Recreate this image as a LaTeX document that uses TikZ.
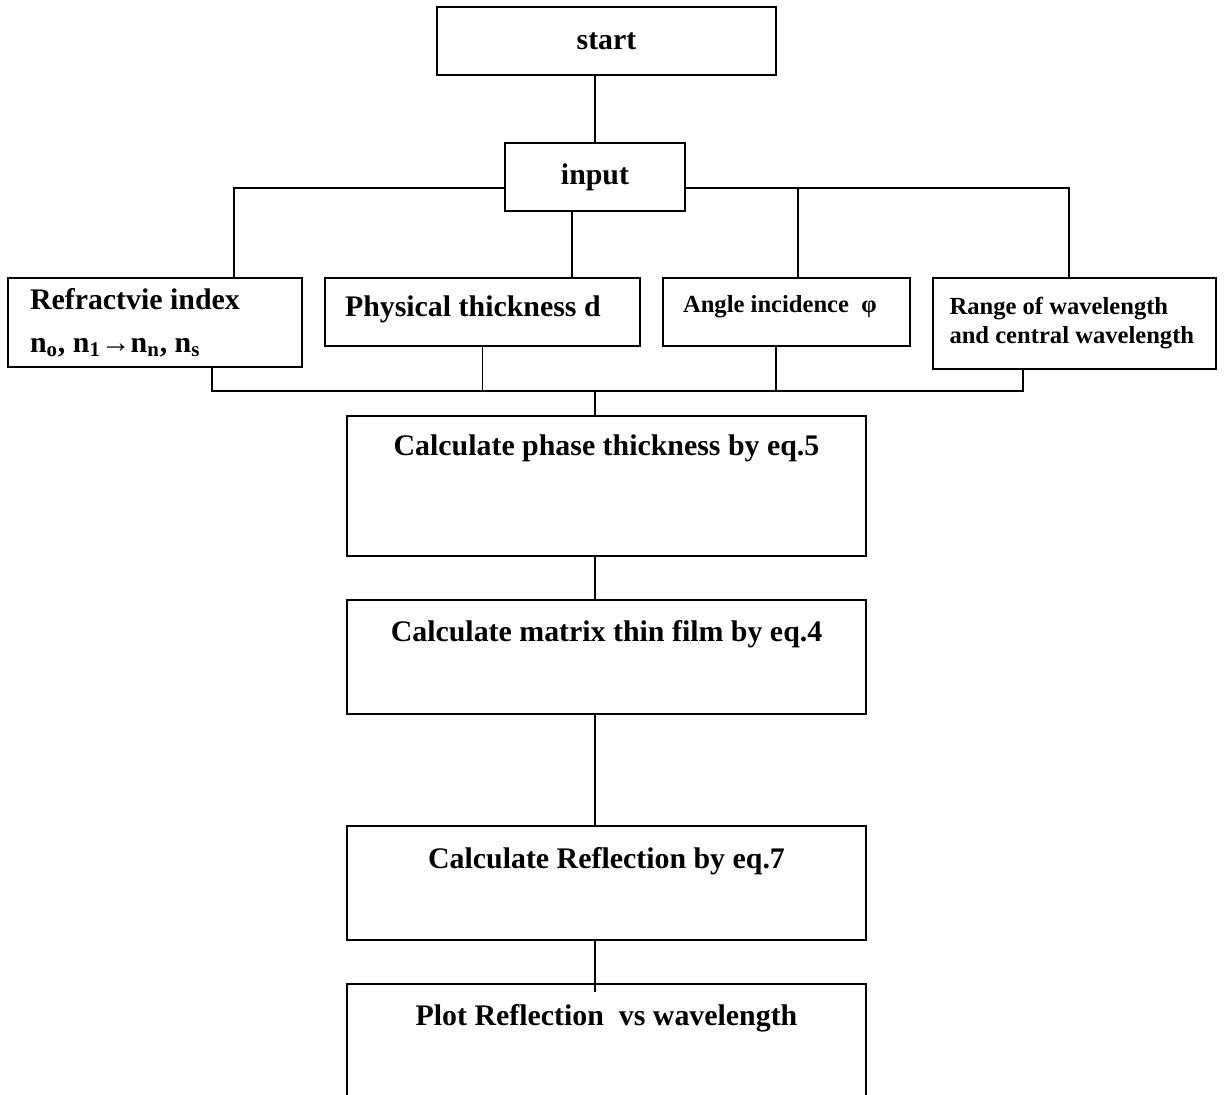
\documentclass[tikz,border=0pt]{standalone}
\usepackage{fontspec}
\setmainfont{Liberation Serif}
\usepackage{tikz}
\usetikzlibrary{positioning,shapes,calc}
\newcommand{\bigtxt}{\fontsize{17}{24.5}\selectfont\bfseries}
\newcommand{\smalltxt}{\fontsize{14}{16.5}\selectfont\bfseries}
\tikzstyle{core}=[rectangle, draw=black, line width=0.8pt, inner sep=0pt, text centered, font=\bigtxt]
\tikzstyle{data}=[rectangle, draw=black, line width=0.8pt, inner ysep=0pt, inner xsep=0.4cm, align=flush left]
\tikzstyle{calc}=[rectangle, draw=black, line width=0.8pt, inner sep=0pt, minimum width=10.38cm, text centered, font=\bigtxt]
\tikzstyle{myline}=[line width=0.8pt]
\hyphenpenalty=10000

\begin{document}
\begin{tikzpicture}[node distance=2cm]
        \useasboundingbox (0,0) rectangle (24.48,-21.88);

        \node (start) [core, minimum width=6.78cm, minimum height=1.36cm] at (12.13,-0.82) {start};
        \node (input) [core, minimum width=3.6cm, minimum height=1.36cm, below of=start, node distance=2.72cm, xshift=-0.23cm] {input};

        % Input data
        \node (phys) [data, font=\bigtxt, text width=5.5cm, text height=0.76cm, text depth=0.6cm, below of=input, node distance=2.7cm, xshift=-2.25cm] {Physical thickness d};
        \node (refr) [data, font=\bigtxt, inner xsep=0.44cm, text width=5.0cm, minimum height=1.78cm, left of=phys, node distance=6.55cm, yshift=-0.21cm] {Refractvie index\\n\textsubscript{o}, n\textsubscript{1}→n\textsubscript{n}, n\textsubscript{s}};
        \node (angle) [data, font=\smalltxt, text width=4.14cm, text height=0.68cm, text depth=0.68cm, right of=phys, node distance=6.08cm] {Angle incidence~~φ};
        \node (range) [data, font=\smalltxt, inner xsep=0.33cm, text width=5.0cm, minimum height=1.82cm, right of=angle, node distance=5.76cm, yshift=-0.23cm] {Range of wavelength\\and central wavelength};

        % Calculation
        \node (phase) [calc, text height=0.78cm, text depth=2.02cm, below of=start, node distance=8.9cm] {Calculate phase thickness by eq.5};
        \node (matrix) [calc, text height=0.82cm, text depth=1.46cm, below of=phase, node distance=3.42cm] {Calculate matrix thin film by eq.4};
        \node (refl) [calc, text height=0.84cm, text depth=1.44cm, below of=matrix, node distance=4.52cm] {Calculate Reflection by eq.7};
        \node (plot) [calc, text height=0.82cm, text depth=1.98cm, below of=refl, node distance=3.42cm] {Plot Reflection~~vs wavelength};

        \coordinate (inleft) at ($(input.west)+(0,-0.22)$);
        \coordinate (inright) at ($(input.east)+(0,-0.22)$);
        \coordinate (bus) at (11.9,-7.82);

        \draw[myline] (input.north) -- (input.north |- start.south);
        \draw[myline] (inleft) -| ($(refr.north)+(1.58,0)$);
        \draw[myline] (inright) -| ($(range.north)+(-0.11,0)$);
        \draw[myline] ($(input.south)+(-0.46,0)$) coordinate (a) -- (a |- phys.north);
        \draw[myline] ($(angle.north)+(0.23,0)$) coordinate (b) -- (b |- inright);

        \draw[myline] ($(refr.south)+(1.14,0)$) |- (bus);
        \draw[myline] ($(range.south)+(-1.03,0)$) |- (bus);
        \draw[myline] (phys.south) -- (phys.south |- bus);
        \draw[myline] ($(angle.south)+(-0.21,0)$) coordinate (c) -- (c |- bus);
        \draw[myline] (bus) -- (bus |- phase.north);

        \draw[myline] ($(phase.south)+(-0.23,0)$) coordinate (d) -- (d |- matrix.north);
        \draw[myline] ($(matrix.south)+(-0.23,0)$) coordinate (e) -- (e |- refl.north);
        \draw[myline] ($(refl.south)+(-0.23,0)$) coordinate (g) -- ($(g |- plot.north)+(0,-0.18)$);

\end{tikzpicture}
\end{document}
